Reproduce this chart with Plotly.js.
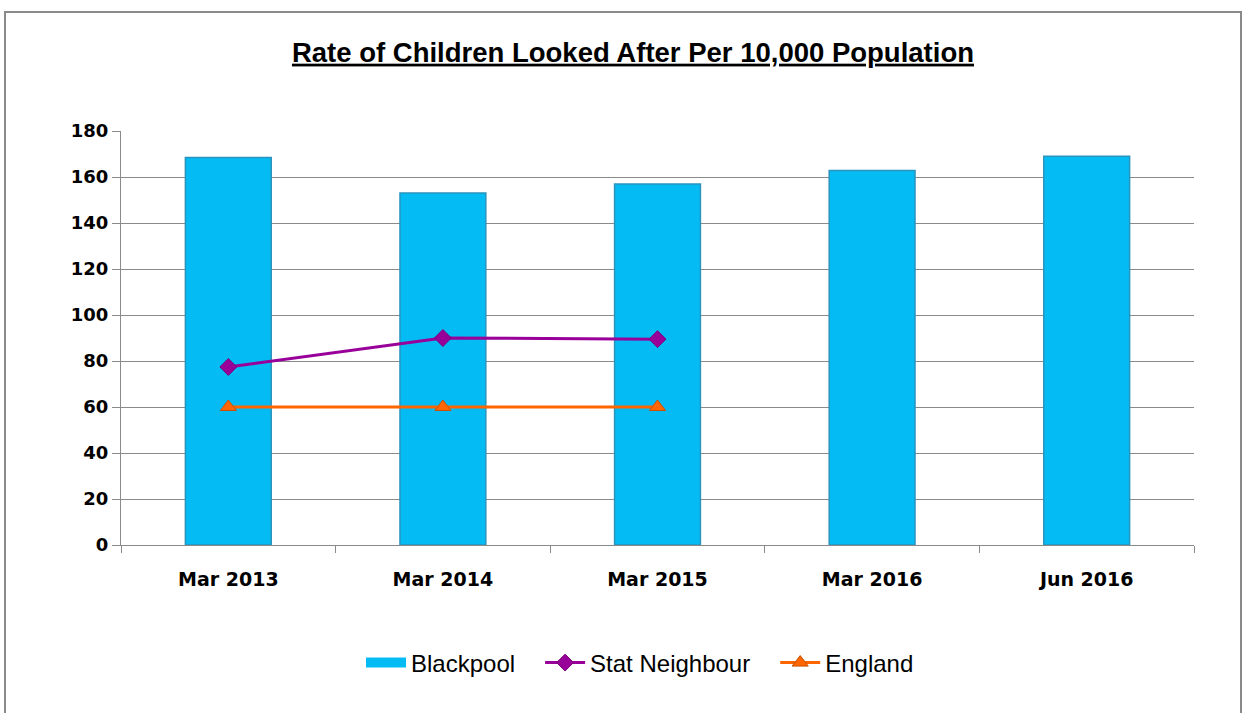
<!DOCTYPE html>
<html>
<head>
<meta charset="utf-8">
<script src="https://cdn.plot.ly/plotly-3.0.1.min.js"></script>
<style>
  html, body { margin: 0; padding: 0; background: #fff; overflow: hidden; }
  #chart { position: absolute; left: 0; top: 0; width: 1247px; height: 713px; }
  #frame { position: absolute; left: 4px; top: 11px; width: 1238px; height: 720px;
           border: 2px solid #8a8a8a; pointer-events: none; box-sizing: border-box; }
</style>
</head>
<body>
<div id="chart"></div>
<div id="frame"></div>
<script>
const categories = ["Mar 2013", "Mar 2014", "Mar 2015", "Mar 2016", "Jun 2016"];
const blackpool = [168.5, 153, 157, 162.8, 169];
const statNeighbour = [77.4, 90, 89.5, null, null];
const england = [60, 60, 60, null, null];
const yTicks = [0, 20, 40, 60, 80, 100, 120, 140, 160, 180];
const seriesNames = ["Blackpool", "Stat Neighbour", "England"];

const fontMain = "Liberation Sans, Arial, sans-serif";
const fontTick = "DejaVu Sans, Verdana, sans-serif";
const barColor = "#05bbf3";
const pad = "\u00a0\u00a0\u00a0";

const traces = [
  {
    type: "bar", name: seriesNames[0], x: categories, y: blackpool,
    width: 0.4, showlegend: false,
    marker: { color: barColor, line: { color: "#2a94bd", width: 1.5 } }
  },
  {
    // legend entry for the bars (wide bar-like swatch)
    type: "scatter", mode: "lines", name: seriesNames[0] + pad,
    x: [null], y: [null],
    line: { color: barColor, width: 13 },
    legendrank: 1
  },
  {
    type: "scatter", mode: "lines+markers", name: seriesNames[1] + pad,
    x: categories, y: statNeighbour,
    line: { color: "#990099", width: 3 },
    marker: { symbol: "diamond", size: 13, color: "#990099", line: { color: "#7a007a", width: 1 } },
    connectgaps: false, legendrank: 2
  },
  {
    type: "scatter", mode: "lines+markers", name: seriesNames[2],
    x: categories, y: england,
    line: { color: "#ff6600", width: 3 },
    marker: { symbol: "triangle-up", size: 14, color: "#ff6600", line: { color: "#c85000", width: 1 } },
    connectgaps: false, legendrank: 3
  }
];

const layout = {
  width: 1247, height: 713,
  margin: { l: 121, r: 53, t: 131, b: 168 },
  paper_bgcolor: "#ffffff", plot_bgcolor: "#ffffff",
  title: {
    text: "<b><u>Rate of Children Looked After Per 10,000 Population</u></b>",
    font: { family: fontMain, size: 27.5, color: "#000" },
    x: 0.5076, xanchor: "center", xref: "container", y: 0.927, yanchor: "middle"
  },
  xaxis: {
    type: "category",
    showgrid: false,
    showline: true, linecolor: "#8a8a8a", linewidth: 1,
    ticks: "outside", tickson: "boundaries", ticklen: 7, tickcolor: "#8a8a8a",
    tickfont: { family: fontTick, size: 19, color: "#000", weight: "bold" },
    ticklabelstandoff: 17,
    tickangle: 0,
    range: [-0.5, 4.5]
  },
  yaxis: {
    range: [0, 180],
    tickvals: yTicks,
    ticktext: yTicks.map(String),
    showgrid: true, gridcolor: "#8a8a8a", gridwidth: 1,
    showline: true, linecolor: "#8a8a8a", linewidth: 1,
    ticks: "outside", ticklen: 8, tickcolor: "#8a8a8a",
    tickfont: { family: fontTick, size: 18, color: "#000", weight: "bold" },
    zeroline: false
  },
  legend: {
    orientation: "h", x: 0.4837, xanchor: "center", y: -0.285, yanchor: "middle",
    font: { family: fontMain, size: 24, color: "#000" },
    itemwidth: 40, traceorder: "normal"
  },
  bargap: 0.6,
  showlegend: true
};

Plotly.newPlot("chart", traces, layout, { displayModeBar: false, staticPlot: true });
</script>
</body>
</html>
